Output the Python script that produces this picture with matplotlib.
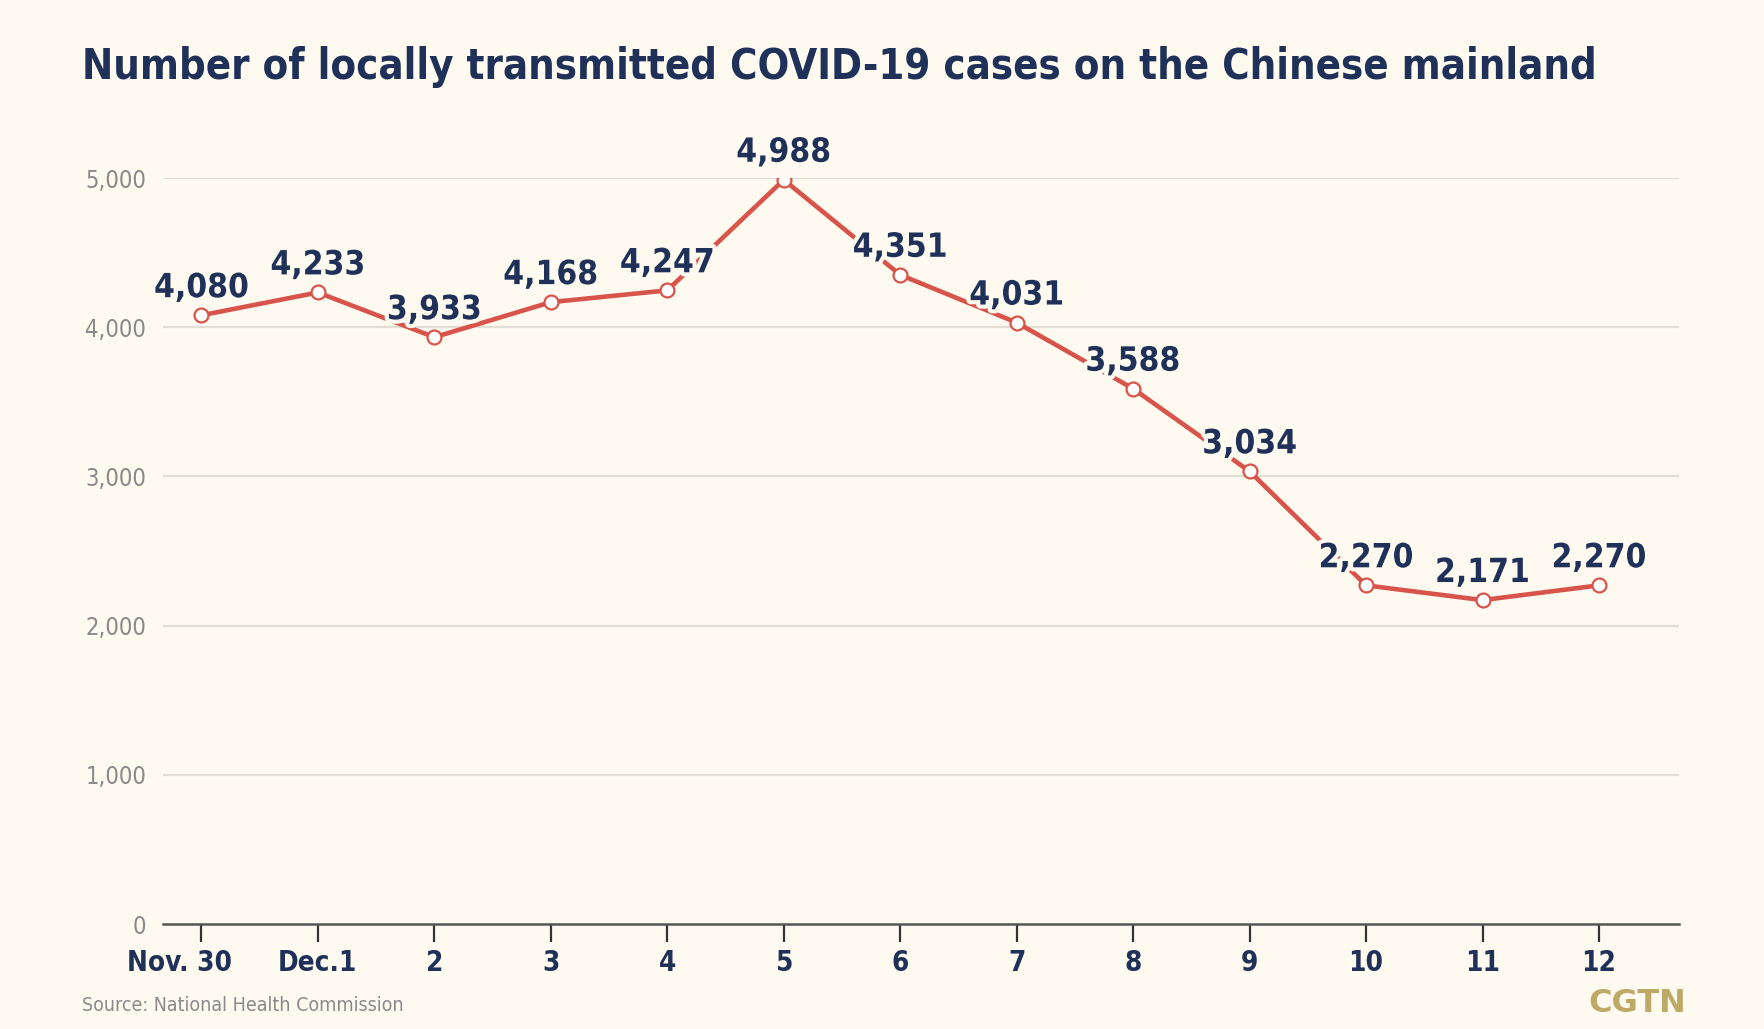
import matplotlib
matplotlib.use("Agg")
import matplotlib.pyplot as plt
import matplotlib.patheffects as pe
import matplotlib.transforms as mtransforms

BG = "#FEFAEF"
NAVY = "#1F3159"
RED = "#D8544A"
GRID = "#E2DED4"
GRAY = "#8A8A8A"
GOLD = "#BFA967"

DATES = ["Nov. 30", "Dec.1", "2", "3", "4", "5", "6", "7", "8", "9", "10", "11", "12"]
CASES = [4080, 4233, 3933, 4168, 4247, 4988, 4351, 4031, 3588, 3034, 2270, 2171, 2270]
Y_TICKS = [0, 1000, 2000, 3000, 4000, 5000]

plt.rcParams["font.family"] = ["DejaVu Sans"]


def main() -> None:
    fig = plt.figure(figsize=(17.64, 10.29), dpi=100, facecolor=BG)
    ax = fig.add_axes([0.0924, 0.102, 0.8596, 0.725], facecolor=BG)

    x = list(range(len(CASES)))
    ax.plot(x, CASES, color=RED, lw=3.3, zorder=3,
            marker="o", ms=10, mfc="white", mec=RED, mew=1.6)

    for xi, v in zip(x, CASES):
        ax.annotate(f"{v:,}", (xi, v), xytext=(0, 13), textcoords="offset points",
                    ha="center", va="baseline", fontsize=24, fontweight="bold",
                    fontstretch="condensed", color=NAVY, zorder=5, annotation_clip=False,
                    path_effects=[pe.withStroke(linewidth=6, foreground=BG)])

    ax.set_xlim(-0.33, 12.69)
    ax.set_ylim(0, 5000)
    ax.set_yticks(Y_TICKS)
    ax.set_yticklabels([f"{t:,}" for t in Y_TICKS], color=GRAY, fontsize=17,
                       fontstretch="condensed")
    ax.set_xticks(x)
    ax.set_xticklabels(DATES, color=NAVY, fontsize=20, fontweight="bold",
                       fontstretch="condensed")
    ax.tick_params(axis="y", length=0, pad=12)
    ax.tick_params(axis="x", length=13, width=1.6, color="#333333", pad=5)

    # "Nov. 30" sits a bit left of its tick in the original
    first = ax.get_xticklabels()[0]
    first.set_transform(first.get_transform() +
                        mtransforms.ScaledTranslation(-0.215, 0, fig.dpi_scale_trans))

    for t in Y_TICKS[1:]:
        ax.axhline(t, color=GRID, lw=1.6, zorder=1)

    for s in ["top", "right", "left"]:
        ax.spines[s].set_visible(False)
    ax.spines["bottom"].set_color("#555555")
    ax.spines["bottom"].set_linewidth(1.8)
    ax.spines["bottom"].set_zorder(4)

    fig.text(0.0465, 0.955, "Number of locally transmitted COVID-19 cases on the Chinese mainland",
             ha="left", va="top", fontsize=30, fontweight="bold",
             fontstretch="condensed", color=NAVY)
    fig.text(0.0465, 0.023, "Source: National Health Commission", ha="left", va="center",
             fontsize=14, color=GRAY, fontstretch="condensed")
    fig.text(0.956, 0.025, "CGTN", ha="right", va="center", fontsize=23,
             fontweight="bold", color=GOLD)

    fig.savefig("out.png", dpi=100, facecolor=BG)
    plt.close(fig)


if __name__ == "__main__":
    main()
